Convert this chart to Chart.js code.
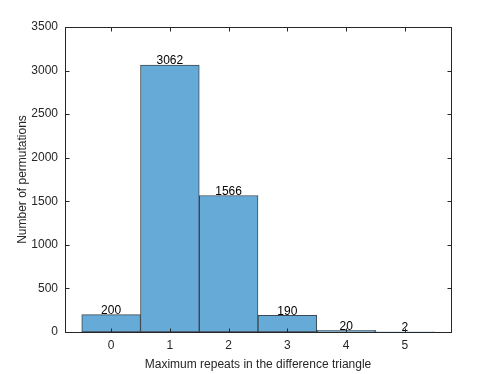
<!DOCTYPE html>
<html>
<head>
<meta charset="utf-8">
<script src="https://cdn.jsdelivr.net/npm/chart.js@4"></script>
<style>
  html, body { margin: 0; padding: 0; background: #fff; }
  #wrap { width: 498px; height: 374px; }
</style>
</head>
<body>
<div id="wrap"><canvas id="myChart" width="498" height="374"></canvas></div>
<script>
// Histogram data
const repeats = [0, 1, 2, 3, 4, 5];
const counts = [200, 3062, 1566, 190, 20, 2];
const xTicks = [0, 1, 2, 3, 4, 5];
const yTicks = [0, 500, 1000, 1500, 2000, 2500, 3000, 3500];

const axisColor = '#262626';
const fontFamily = '"Liberation Sans", Arial, Helvetica, sans-serif';

// Box with inward tick marks, MATLAB style
const boxPlugin = {
    id: 'box',
    afterDraw(chart) {
        const ctx = chart.ctx;
        const area = chart.chartArea;
        const xs = chart.scales.x;
        const ys = chart.scales.y;
        const L = Math.round(area.left) + 0.5;
        const R = Math.round(area.right) + 0.5;
        const T = Math.round(area.top) + 0.5;
        const B = Math.round(area.bottom) + 0.5;
        ctx.save();
        ctx.strokeStyle = axisColor;
        ctx.lineWidth = 1;
        ctx.strokeRect(L, T, R - L, B - T);
        ctx.beginPath();
        xTicks.forEach(v => {
            const px = Math.round(xs.getPixelForValue(v)) + 0.5;
            ctx.moveTo(px, B); ctx.lineTo(px, B - 4);
            ctx.moveTo(px, T); ctx.lineTo(px, T + 4);
        });
        yTicks.forEach(v => {
            const py = Math.round(ys.getPixelForValue(v)) + 0.5;
            ctx.moveTo(L, py); ctx.lineTo(L + 4, py);
            ctx.moveTo(R, py); ctx.lineTo(R - 4, py);
        });
        ctx.stroke();
        ctx.restore();
    }
};

// Count labels above each bar
const labelPlugin = {
    id: 'barLabels',
    afterDatasetsDraw(chart) {
        const ctx = chart.ctx;
        const meta = chart.getDatasetMeta(0);
        ctx.save();
        ctx.fillStyle = '#000';
        ctx.font = '12px ' + fontFamily;
        ctx.textAlign = 'center';
        ctx.textBaseline = 'bottom';
        meta.data.forEach((bar, i) => {
            ctx.fillText(String(counts[i]), bar.x, bar.y + 2);
        });
        ctx.restore();
    }
};

const ctx = document.getElementById('myChart').getContext('2d');
const myChart = new Chart(ctx, {
    type: 'bar',
    data: {
        datasets: [{
            data: repeats.map((r, i) => ({ x: r, y: counts[i] })),
            backgroundColor: 'rgb(102,170,215)',
            borderColor: 'rgba(30,40,50,0.85)',
            borderWidth: 1,
            borderSkipped: false,
            barPercentage: 1,
            categoryPercentage: 1
        }]
    },
    options: {
        responsive: false,
        animation: false,
        layout: { padding: { top: 27, right: 47, left: 0, bottom: 0 } },
        plugins: {
            legend: { display: false },
            tooltip: { enabled: false }
        },
        scales: {
            x: {
                type: 'linear',
                offset: false,
                min: -0.785,
                max: 5.785,
                afterBuildTicks: (scale) => { scale.ticks = xTicks.map(v => ({ value: v })); },
                afterFit: (scale) => { scale.height = 42; },
                grid: { display: false, drawTicks: false },
                border: { display: false },
                ticks: {
                    color: axisColor, font: { size: 12, family: fontFamily }, padding: 6,
                    callback: (v) => String(v)
                },
                title: {
                    display: true,
                    text: 'Maximum repeats in the difference triangle',
                    color: axisColor,
                    font: { size: 12, family: fontFamily },
                    padding: { top: 0, bottom: 2 }
                }
            },
            y: {
                min: 0,
                max: 3500,
                afterBuildTicks: (scale) => { scale.ticks = yTicks.map(v => ({ value: v })); },
                afterFit: (scale) => { scale.width = 65; },
                grid: { display: false, drawTicks: false },
                border: { display: false },
                ticks: {
                    color: axisColor, font: { size: 12, family: fontFamily }, padding: 7,
                    callback: (v) => String(v)
                },
                title: {
                    display: true,
                    text: 'Number of permutations',
                    color: axisColor,
                    font: { size: 12, family: fontFamily },
                    padding: { top: 15, bottom: 0 }
                }
            }
        }
    },
    plugins: [boxPlugin, labelPlugin]
});
</script>
</body>
</html>
